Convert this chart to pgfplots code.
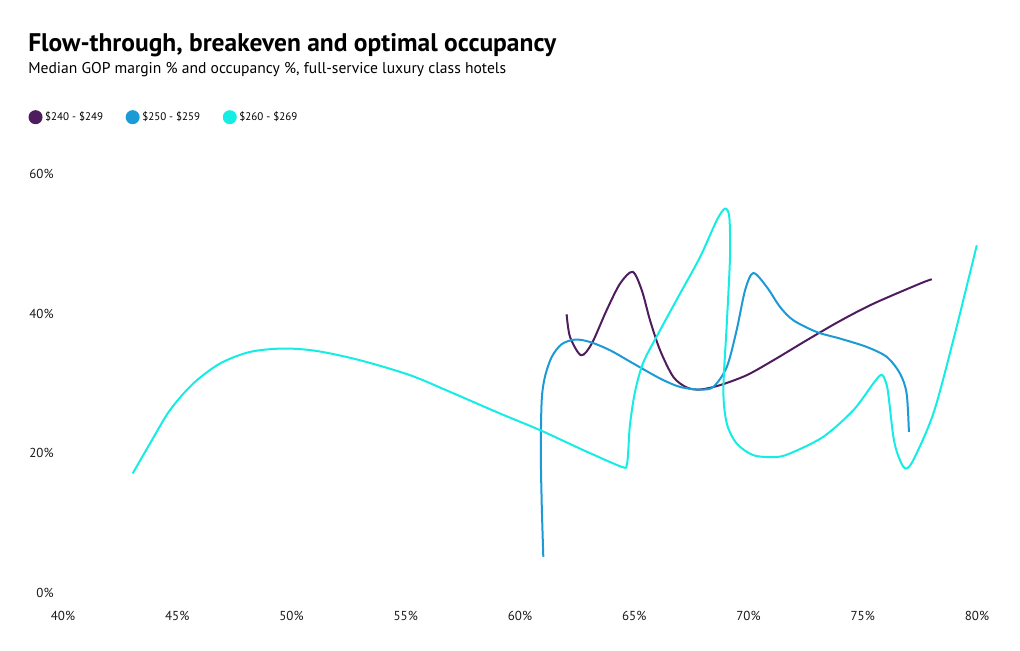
\documentclass[border=0pt]{standalone}
\usepackage{pgfplots}
\pgfplotsset{compat=1.18}
\usepackage{fontspec}
\setmainfont{PT Sans}
\definecolor{cA}{HTML}{4E1D5E}
\definecolor{cB}{HTML}{1C9AD6}
\definecolor{cC}{HTML}{14EDE4}
\begin{document}
\begin{tikzpicture}[x=0.75pt,y=0.75pt]
\useasboundingbox (0,0) rectangle (1020,650);
\node[anchor=base west, inner sep=0, font=\fontsize{19.1}{22}\selectfont\bfseries] at (28,598) {Flow-through, breakeven and optimal occupancy};
\node[anchor=base west, inner sep=0, font=\fontsize{11.7}{13}\selectfont] at (28,576) {Median GOP margin \% and occupancy \%, full-service luxury class hotels};
\begin{axis}[
  at={(47.25pt,42.75pt)}, anchor=south west,
  scale only axis, width=685.5pt, height=314.25pt,
  xmin=40, xmax=80, ymin=0, ymax=60,
  axis line style={draw=none}, tick style={draw=none},
  xtick={40,45,50,55,60,65,70,75,80},
  xticklabels={40\%,45\%,50\%,55\%,60\%,65\%,70\%,75\%,80\%},
  ytick={0,20,40,60},
  yticklabels={0\%,20\%,40\%,60\%},
  ticklabel style={font=\fontsize{9.75}{11}\selectfont, text=black!90},
  xticklabel style={yshift=-10.5pt},
  yticklabel style={xshift=-3.5pt},
  clip=false,
  legend columns=3,
  legend cell align=left,
  legend style={draw=none, fill=none, inner sep=0pt, outer sep=0pt,
    at={(axis description cs:-0.0377,1.1356)}, anchor=west,
    font=\fontsize{8.25}{10}\selectfont,
    /tikz/every even column/.append style={column sep=15pt}},
  legend image code/.code={\fill[#1] (4.5pt,0pt) circle (4.5pt);},
]
\addplot[cA, line width=1.5pt, smooth] coordinates {
(62.04,39.91) (62.19,36.67) (62.67,34.05) (63.14,35.72) (63.79,40.49) (64.38,44.31)
(64.93,45.99) (65.33,43.35) (65.69,39.06) (66.13,34.76) (66.71,30.94) (67.30,29.43)
(67.88,29.14) (68.75,29.76) (69.92,31.19) (71.09,33.33) (72.55,36.20) (74.00,38.95)
(75.46,41.42) (77.51,44.31) (78.02,44.92)
};
\addlegendentry{\$240 - \$249}
\addplot[cB, line width=1.5pt, smooth] coordinates {
(61.02,5.19) (60.95,12.83) (60.91,20.46) (60.95,27.61) (61.09,30.94) (61.39,33.81)
(61.82,35.62) (62.41,36.29) (63.06,35.95) (63.94,34.76) (64.96,32.86) (66.13,30.72)
(67.00,29.51) (67.88,29.14) (68.46,29.51) (69.05,32.37) (69.48,37.63) (69.85,43.35)
(70.21,45.82) (70.80,43.82) (71.38,40.96) (71.96,39.06) (72.98,37.38) (74.00,36.44)
(75.17,35.24) (76.05,33.81) (76.63,31.43) (76.92,28.57) (77.02,23.08)
};
\addlegendentry{\$250 - \$259}
\addplot[cC, line width=1.5pt, smooth] coordinates {
(43.05,17.12) (43.81,21.42) (44.68,26.18) (45.70,30.00) (46.87,32.86) (48.18,34.52)
(49.64,35.01) (51.10,34.66) (53.00,33.33) (55.19,31.19) (56.94,28.80) (59.12,25.71)
(60.88,23.32) (62.77,20.46) (64.45,18.07) (64.67,18.31) (64.74,20.46) (64.81,24.03)
(65.03,28.76) (65.40,33.05) (66.13,37.63) (67.00,42.85) (67.88,48.11) (68.61,53.36)
(68.97,55.04) (69.16,53.83) (69.19,48.11) (69.05,38.58) (68.90,29.04) (69.05,24.28)
(69.48,21.42) (70.21,19.74) (71.16,19.46) (71.82,19.99) (73.27,22.36) (74.59,26.18)
(75.46,30.00) (75.83,31.26) (76.05,29.76) (76.15,27.61) (76.34,22.36) (76.54,19.74)
(76.85,17.84) (77.21,19.03) (78.09,25.71) (78.96,36.19) (79.99,49.79)
};
\addlegendentry{\$260 - \$269}
\end{axis}
\end{tikzpicture}
\end{document}
